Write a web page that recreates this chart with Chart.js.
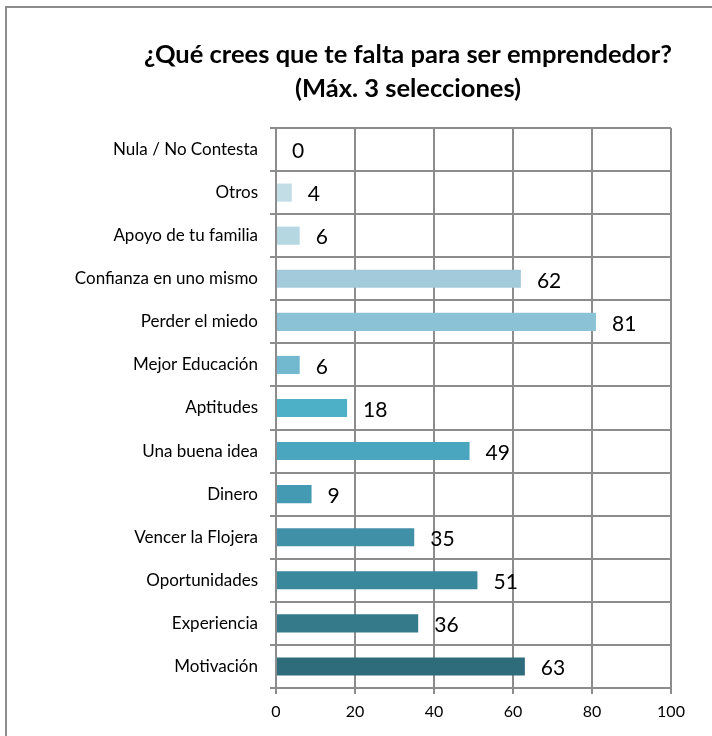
<!DOCTYPE html>
<html>
<head>
<meta charset="utf-8">
<script src="https://cdn.jsdelivr.net/npm/chart.js@4/dist/chart.umd.min.js"></script>
<style>
  body { margin: 0; background: #fff; }
  #wrap { position: relative; width: 712px; height: 736px; overflow: hidden; }
  #frame { position: absolute; left: 5px; top: 6px; width: 760px; height: 780px; border: 2px solid #8c8c8c; }
  #chart-box { position: absolute; left: 0; top: 0; width: 712px; height: 736px; }
</style>
</head>
<body>
<div id="wrap">
  <div id="frame"></div>
  <div id="chart-box"><canvas id="reportChart"></canvas></div>
</div>
<script>
// categories, top to bottom
const categories = [
    'Nula / No Contesta', 'Otros', 'Apoyo de tu familia', 'Confianza en uno mismo',
    'Perder el miedo', 'Mejor Educación', 'Aptitudes', 'Una buena idea', 'Dinero',
    'Vencer la Flojera', 'Oportunidades', 'Experiencia', 'Motivación'
];
const counts = [0, 4, 6, 62, 81, 6, 18, 49, 9, 35, 51, 36, 63];
const barColors = [
    '#cfe5ec', '#c3dde6', '#b5d7e2', '#a2cadb', '#8cc2d5', '#72b9cf', '#4eb0c6',
    '#4aa6bf', '#4499b3', '#4091a8', '#3a889c', '#347a8b', '#2e6b7b'
];
const xTicks = [0, 20, 40, 60, 80, 100];
const titleLines = ['¿Qué crees que te falta para ser emprendedor?', '(Máx. 3 selecciones)'];

const gridColor = '#8c8c8c';
const fontFamily = 'Lato, "Open Sans", sans-serif';

// title drawn by hand so it can sit off-centre like the original
const titlePlugin = {
    id: 'twoLineTitle',
    afterDraw(chart) {
        const ctx = chart.ctx;
        ctx.save();
        ctx.fillStyle = '#000';
        ctx.textAlign = 'center';
        ctx.textBaseline = 'alphabetic';
        ctx.font = 'bold 25.5px ' + fontFamily;
        ctx.fillText(titleLines[0], 408, 63);
        ctx.fillText(titleLines[1], 408, 97);
        ctx.restore();
    }
};

// value labels to the right of each bar
const valueLabels = {
    id: 'valueLabels',
    afterDatasetsDraw(chart) {
        const ctx = chart.ctx;
        const meta = chart.getDatasetMeta(0);
        ctx.save();
        ctx.fillStyle = '#000';
        ctx.font = '21px ' + fontFamily;
        ctx.textAlign = 'left';
        ctx.textBaseline = 'middle';
        meta.data.forEach((bar, i) => {
            ctx.fillText(String(counts[i]), bar.x + 16, bar.y + 2);
        });
        ctx.restore();
    }
};

new Chart(document.getElementById('reportChart').getContext('2d'), {
    type: 'bar',
    data: {
        labels: categories,
        datasets: [{
            data: counts,
            backgroundColor: barColors,
            borderWidth: 0,
            categoryPercentage: 1,
            barPercentage: 0.42
        }]
    },
    options: {
        indexAxis: 'y',
        responsive: true,
        maintainAspectRatio: false,
        animation: false,
        layout: { padding: { top: 128, right: 41, bottom: 0, left: 0 } },
        plugins: {
            legend: { display: false },
            title: { display: false },
            tooltip: { enabled: false }
        },
        scales: {
            x: {
                min: 0,
                max: 100,
                afterBuildTicks(axis) {
                    axis.ticks = xTicks.map(v => ({ value: v }));
                },
                afterFit(axis) { axis.height = 48; },
                grid: { color: gridColor, lineWidth: 2, tickLength: 6 },
                border: { color: gridColor, width: 2 },
                ticks: {
                    color: '#000',
                    padding: 8,
                    font: { family: fontFamily, size: 16 }
                }
            },
            y: {
                afterFit(axis) { axis.width = 276; },
                grid: { color: gridColor, lineWidth: 2, tickLength: 6, offset: true },
                border: { color: gridColor, width: 2 },
                ticks: {
                    color: '#000',
                    padding: 12,
                    autoSkip: false,
                    font: { family: fontFamily, size: 17 }
                }
            }
        }
    },
    plugins: [titlePlugin, valueLabels]
});
</script>
</body>
</html>
